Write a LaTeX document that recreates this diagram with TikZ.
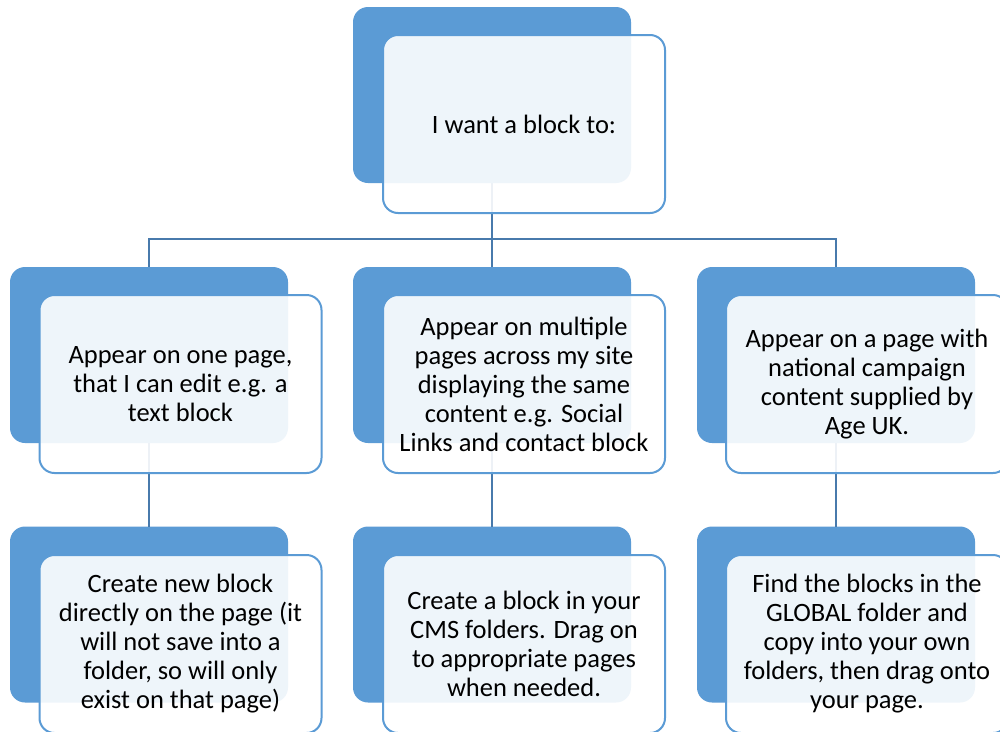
\documentclass[tikz,border=0pt]{standalone}
\usepackage{fontspec}
\setmainfont{Carlito}
\definecolor{backblue}{RGB}{91,155,213}
\definecolor{linkblue}{RGB}{72,122,172}
\tikzset{
  backbox/.style={draw=none, fill=backblue, rounded corners=15pt, minimum width=278pt, minimum height=176pt, inner sep=0pt, outer sep=0pt},
  frontbox/.style={draw=backblue, line width=2pt, fill=white, fill opacity=0.9, text opacity=1, rounded corners=15pt, minimum width=282pt, minimum height=178pt, inner sep=0pt, outer sep=0pt, align=center, text=black, font=\fontsize{26.5}{29}\selectfont},
  link/.style={draw=linkblue, line width=2.2pt}
}
\begin{document}
\begin{tikzpicture}[x=1pt,y=-1pt]
\useasboundingbox (0,0) rectangle (1000,731);
\clip (0,0) rectangle (1000,731);
\fill[white] (0,0) rectangle (1000,731);
% connectors (drawn first, so the front boxes veil them)
\coordinate (bar) at (492,239);
\coordinate (tbs) at (492,183);
\coordinate (lbn) at (149,267);
\coordinate (mbn) at (492,267);
\coordinate (rbn) at (836,267);
\draw[link] (tbs) -- (bar);
\draw[link] (lbn) |- (bar) -| (rbn);
\draw[link] (bar) -- (mbn);
% back boxes
\node[backbox] (tb) at (492,95) {};
\node[backbox] (lb) at (149,355) {};
\node[backbox] (mb) at (492,355) {};
\node[backbox] (rb) at (836,355) {};
\node[backbox] (llb) at (149,614.5) {};
\node[backbox] (mlb) at (492,614.5) {};
\node[backbox] (rlb) at (836,614.5) {};
\draw[link] (lb.south) -- (llb.north);
\draw[link] (mb.south) -- (mlb.north);
\draw[link] (rb.south) -- (rlb.north);
% front boxes
\node[frontbox] (tf) at (524,124) {I want a block to:};
\node[frontbox] (lf) at (180.5,384) {Appear on one page,\\that I can edit e.g. a\\text block};
\node[frontbox] (mf) at (524,384) {Appear on multiple\\pages across my site\\displaying the same\\content e.g. Social\\Links and contact block};
\node[frontbox] (rf) at (867,384) {Appear on a page with\\national campaign\\content supplied by\\Age UK.};
\node[frontbox] (llf) at (180.5,644) {Create new block\\directly on the page (it\\will not save into a\\folder, so will only\\exist on that page)};
\node[frontbox] (mlf) at (524,644) {Create a block in your\\CMS folders. Drag on\\to appropriate pages\\when needed.};
\node[frontbox] (rlf) at (867,644) {Find the blocks in the\\GLOBAL folder and\\copy into your own\\folders, then drag onto\\your page.};
\end{tikzpicture}
\end{document}
